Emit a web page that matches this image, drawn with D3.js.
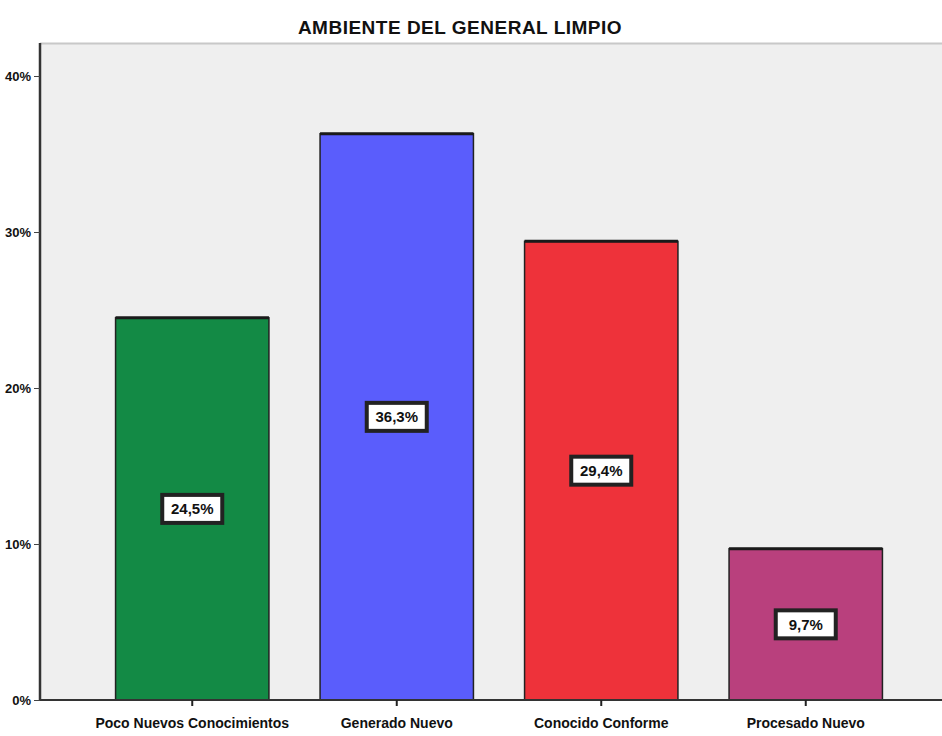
<!DOCTYPE html>
<html>
<head>
<meta charset="utf-8">
<script src="https://cdn.jsdelivr.net/npm/d3@7"></script>
<style>
  html, body { margin: 0; padding: 0; background: #ffffff; }
  svg { display: block; font-family: "Liberation Sans", Arial, sans-serif; }
</style>
</head>
<body>
<svg id="chart" width="942" height="736"></svg>
<script>
// Chart data
const titleText = "AMBIENTE DEL GENERAL LIMPIO";
const categories = ["Poco Nuevos Conocimientos", "Generado Nuevo", "Conocido Conforme", "Procesado Nuevo"];
const percents = [24.5, 36.3, 29.4, 9.7];
const percentLabels = ["24,5%", "36,3%", "29,4%", "9,7%"];
const barColors = ["#138a45", "#5a5dfc", "#ee323a", "#b9407d"];
const yTicks = [0, 10, 20, 30, 40];

const svg = d3.select("#chart");
const plot = { left: 40, top: 43, right: 942, bottom: 700 };

// Plot background
svg.append("rect")
  .attr("x", plot.left).attr("y", plot.top)
  .attr("width", plot.right - plot.left).attr("height", plot.bottom - plot.top)
  .attr("fill", "#efefef");
svg.append("line")
  .attr("x1", plot.left).attr("x2", plot.right)
  .attr("y1", plot.top + 0.5).attr("y2", plot.top + 0.5)
  .attr("stroke", "#c8c8c8").attr("stroke-width", 2);

// Scales
const x = d3.scaleBand().domain(categories).range([90, 908]).paddingInner(0.25).paddingOuter(0.125);
const y = d3.scaleLinear().domain([0, 40]).range([plot.bottom, 76]);

// Bars
const bars = svg.append("g");
categories.forEach((c, i) => {
  const bx = x(c), bw = x.bandwidth(), by = y(percents[i]);
  bars.append("rect")
    .attr("x", bx).attr("y", by)
    .attr("width", bw).attr("height", plot.bottom - by)
    .attr("fill", barColors[i])
    .attr("stroke", "#222").attr("stroke-width", 1.5);
  bars.append("line")
    .attr("x1", bx).attr("x2", bx + bw)
    .attr("y1", by).attr("y2", by)
    .attr("stroke", "#1a1a1a").attr("stroke-width", 3);
});

// Value labels in boxes at mid-height
categories.forEach((c, i) => {
  const cx = x(c) + x.bandwidth() / 2;
  const cy = y(percents[i] / 2);
  const g = svg.append("g").attr("transform", `translate(${cx},${cy})`);
  g.append("rect")
    .attr("x", -30).attr("y", -14).attr("width", 60).attr("height", 28)
    .attr("fill", "#ffffff").attr("stroke", "#222").attr("stroke-width", 4);
  g.append("text")
    .attr("text-anchor", "middle").attr("dy", "0.36em")
    .attr("font-size", 15).attr("font-weight", "bold").attr("fill", "#111")
    .text(percentLabels[i]);
});

// Y axis
const yAxis = d3.axisLeft(y).tickValues(yTicks).tickFormat(d => d + "%").tickSize(6).tickPadding(3);
const yg = svg.append("g").attr("transform", `translate(${plot.left},0)`).call(yAxis);
yg.select(".domain").attr("d", `M0,${plot.top}V${plot.bottom}`).attr("stroke", "#333").attr("stroke-width", 2.5);
yg.selectAll(".tick line").attr("stroke", "#444");
yg.selectAll(".tick text").attr("font-size", 13).attr("font-weight", "bold").attr("fill", "#111");

// X axis
const xAxis = d3.axisBottom(x).tickSize(6).tickPadding(10);
const xg = svg.append("g").attr("transform", `translate(0,${plot.bottom})`).call(xAxis);
xg.select(".domain").attr("d", `M${plot.left},0H${plot.right}`).attr("stroke", "#333").attr("stroke-width", 2);
xg.selectAll(".tick line").attr("stroke", "#222").attr("stroke-width", 2);
xg.selectAll(".tick text").attr("font-size", 14).attr("font-weight", "bold").attr("fill", "#111").attr("dy", "0.85em");

// Title
svg.append("text")
  .attr("x", 460).attr("y", 34)
  .attr("text-anchor", "middle")
  .attr("font-size", 19).attr("font-weight", "bold").attr("fill", "#111")
  .attr("letter-spacing", 0.5)
  .text(titleText);
</script>
</body>
</html>
